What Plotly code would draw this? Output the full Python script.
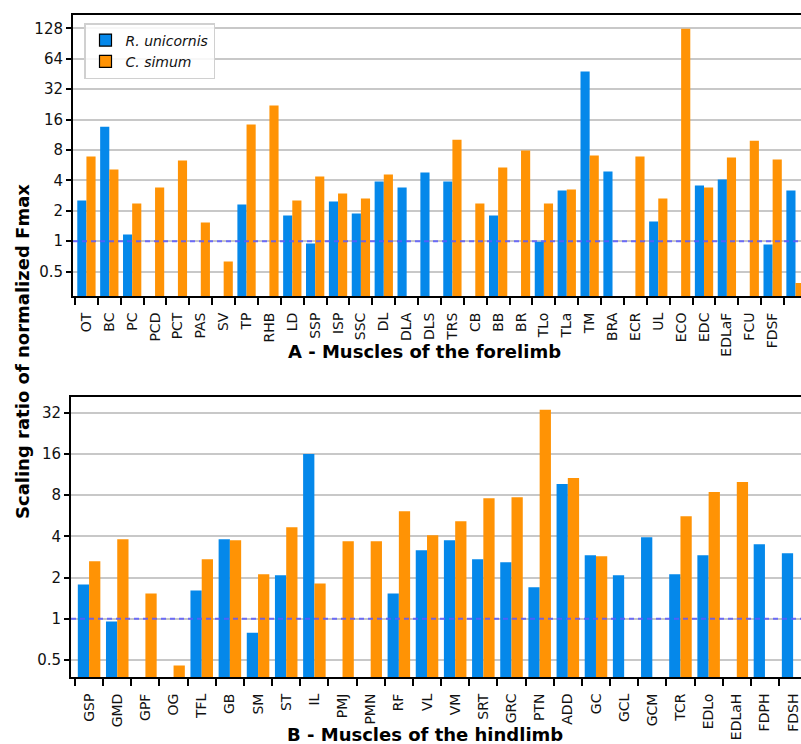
import plotly.graph_objects as go

# ---------------- data ----------------
fore_labels = ["OT", "BC", "PC", "PCD", "PCT", "PAS", "SV", "TP", "RHB", "LD", "SSP", "ISP",
               "SSC", "DL", "DLA", "DLS", "TRS", "CB", "BB", "BR", "TLo", "TLa", "TM", "BRA",
               "ECR", "UL", "ECO", "EDC", "EDLaF", "FCU", "FDSF", "FDPF"]
fore_ru = [2.53, 13.6, 1.165, None, None, None, None, 2.31, None, 1.80, 0.95, 2.47,
           1.88, 3.90, 3.40, 4.78, 3.90, None, 1.80, None, 0.99, 3.17, 47.8, 4.90,
           None, 1.57, None, 3.56, 4.08, None, 0.93, 3.17]
fore_cs = [6.89, 5.12, 2.36, 3.40, 6.29, 1.53, 0.63, 14.3, 22.0, 2.53, 4.37, 2.96,
           2.65, 4.57, None, None, 10.1, 2.36, 5.36, 7.9, 2.36, 3.25, 7.05, None,
           6.89, 2.65, 127.0, 3.40, 6.73, 9.9, 6.43, 0.386]

hind_labels = ["GSP", "GMD", "GPF", "OG", "TFL", "GB", "SM", "ST", "IL", "PMJ", "PMN", "RF",
               "VL", "VM", "SRT", "GRC", "PTN", "ADD", "GC", "GCL", "GCM", "TCR", "EDLo",
               "EDLaH", "FDPH", "FDSH"]
hind_ru = [1.78, 0.955, None, None, 1.61, 3.81, 0.79, 2.08, 16.0, None, None, 1.53,
           3.16, 3.75, 2.72, 2.58, 1.70, 9.63, 2.91, 2.08, 3.94, 2.11, 2.91,
           None, 3.50, 3.01]
hind_cs = [2.63, 3.81, 1.53, 0.455, 2.72, 3.75, 2.11, 4.66, 1.81, 3.68, 3.68, 6.1,
           4.08, 5.16, 7.6, 7.73, 33.6, 10.66, 2.86, None, None, 5.61, 8.42,
           9.96, None, None]

fore_yticks = [0.5, 1, 2, 4, 8, 16, 32, 64, 128]
hind_yticks = [0.5, 1, 2, 4, 8, 16, 32]
series_names = ["R. unicornis", "C. simum"]

# ---------------- style ----------------
W, H = 801, 744
BLUE = "#0588ea"
ORANGE = "#ff9305"
FONT = "DejaVu Sans"
GRID = "#c8c8c8"

fig = go.Figure()

def add_panel(labels, ru, cs, xa, ya):
    x = list(range(len(labels)))
    fig.add_trace(go.Bar(x=x, y=ru, offset=0.1, width=0.4, marker=dict(color=BLUE, line=dict(width=0)),
                         xaxis=xa, yaxis=ya, showlegend=False, name=series_names[0]))
    fig.add_trace(go.Bar(x=x, y=cs, offset=0.5, width=0.4, marker=dict(color=ORANGE, line=dict(width=0)),
                         xaxis=xa, yaxis=ya, showlegend=False, name=series_names[1]))

add_panel(fore_labels, fore_ru, fore_cs, "x", "y")
add_panel(hind_labels, hind_ru, hind_cs, "x2", "y2")

# legend entries (patches with black edge)
for nm, col in zip(series_names, [BLUE, ORANGE]):
    fig.add_trace(go.Bar(x=[None], y=[None], name=nm, xaxis="x", yaxis="y",
                         marker=dict(color=col, line=dict(color="black", width=1.2)),
                         showlegend=True))

def xaxis_cfg(labels, rng, dom):
    n = len(labels)
    return dict(
        domain=dom, range=rng, showgrid=False, zeroline=False,
        tickmode="array", tickvals=[i + 0.5 for i in range(n)], ticktext=labels,
        ticks="outside", ticklen=9, tickwidth=2, tickcolor="rgba(0,0,0,0)",
        tickangle=-90, tickfont=dict(family=FONT, size=14, color="#111"),
        showline=True, linecolor="black", linewidth=2, mirror=True,
        minor=dict(tickmode="array", tickvals=list(range(n)), ticks="outside",
                   ticklen=7, tickwidth=2, tickcolor="black", showgrid=False),
    )

def yaxis_cfg(tv, rng, dom, anchor):
    return dict(
        type="log", domain=dom, range=rng, anchor=anchor,
        tickmode="array", tickvals=tv, ticktext=[("%g" % v) for v in tv],
        ticks="outside", ticklen=5, tickwidth=2, tickcolor="black",
        tickfont=dict(family=FONT, size=15, color="#111"),
        showgrid=True, gridcolor=GRID, gridwidth=2, zeroline=False,
        showline=True, linecolor="black", linewidth=2, mirror=False,
    )

fig.update_layout(
    width=W, height=H, margin=dict(l=0, r=0, t=0, b=0),
    paper_bgcolor="white", plot_bgcolor="white", barmode="overlay",
    font=dict(family=FONT, color="#111"),
    xaxis=dict(**xaxis_cfg(fore_labels, [-0.087, 31.74], [73 / W, 1]), anchor="y"),
    yaxis=yaxis_cfg(fore_yticks, [-0.542, 2.239], [1 - 296 / H, 1 - 15 / H], "x"),
    xaxis2=dict(**xaxis_cfg(hind_labels, [-0.142, 25.78], [71 / W, 1]), anchor="y2"),
    yaxis2=yaxis_cfg(hind_yticks, [-0.426, 1.620], [1 - 677 / H, 1 - 397 / H], "x2"),
    legend=dict(x=84 / W, y=1 - 23 / H, xanchor="left", yanchor="top",
                bgcolor="rgba(255,255,255,0.85)", bordercolor="#d0d0d0", borderwidth=1.5,
                font=dict(family=FONT, size=14, color="#111", style="italic"),
                tracegroupgap=0, itemwidth=30),
    showlegend=True,
)

# reference line at ratio 1
for xr, yr in [("x", "y"), ("x2", "y2")]:
    fig.add_shape(type="line", xref=xr + " domain", yref=yr, x0=0, x1=1, y0=1, y1=1,
                  line=dict(color="rgba(90,90,255,0.85)", width=2, dash="5px,4px"), layer="above")

# axis titles
fig.add_annotation(text="<b>A - Muscles of the forelimb</b>", xref="paper", yref="paper",
                   x=425 / W, y=1 - 351 / H, xanchor="center", yanchor="middle", showarrow=False,
                   font=dict(family=FONT, size=18, color="black"))
fig.add_annotation(text="<b>B - Muscles of the hindlimb</b>", xref="paper", yref="paper",
                   x=425 / W, y=0, xanchor="center", yanchor="bottom", showarrow=False,
                   borderpad=0, yshift=-2, font=dict(family=FONT, size=18, color="black"))
fig.add_annotation(text="<b>Scaling ratio of normalized Fmax</b>", xref="paper", yref="paper",
                   x=22 / W, y=1 - 352 / H, xanchor="center", yanchor="middle", showarrow=False,
                   textangle=-90, font=dict(family=FONT, size=18, color="black"))

fig.write_html("out.html", config={"displayModeBar": False},
               post_script="document.body.style.margin='0px';document.body.style.overflow='hidden';")
